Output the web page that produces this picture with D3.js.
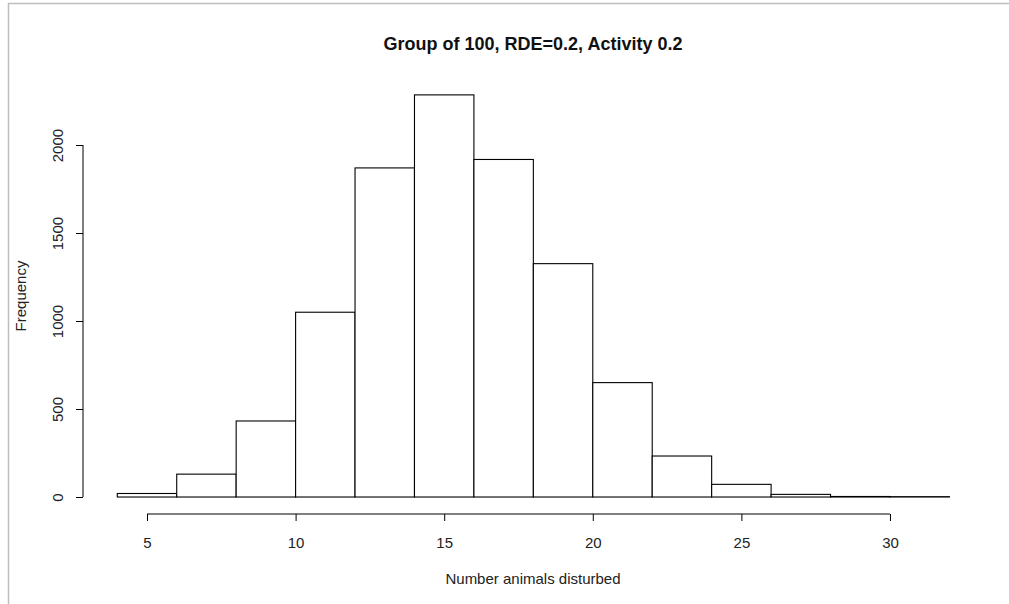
<!DOCTYPE html>
<html>
<head>
<meta charset="utf-8">
<script src="https://cdn.jsdelivr.net/npm/d3@7"></script>
<style>
  body { margin: 0; background: #fff; }
  svg { display: block; font-family: "Liberation Sans", Arial, sans-serif; }
</style>
</head>
<body>
<svg id="chart" width="1009" height="604"></svg>
<script>
// histogram bins (left edges, width 2) and counts
var binStarts = [4, 6, 8, 10, 12, 14, 16, 18, 20, 22, 24, 26, 28, 30];
var binWidth = 2;
var counts = [20, 130, 432, 1050, 1870, 2285, 1918, 1326, 650, 233, 72, 15, 3, 2];
var xTicks = [5, 10, 15, 20, 25, 30];
var yTicks = [0, 500, 1000, 1500, 2000];

var svg = d3.select('#chart');

// page frame (grey edge of the screenshot)
svg.append('line').attr('x1', 8.5).attr('x2', 8.5).attr('y1', 3).attr('y2', 604)
  .attr('stroke', '#bdbdbd').attr('stroke-width', 1.5);
svg.append('line').attr('x1', 8).attr('x2', 1009).attr('y1', 3.5).attr('y2', 3.5)
  .attr('stroke', '#bdbdbd').attr('stroke-width', 1.5);

//R style: 4% padding around the data range
var xMin = 4, xMax = 32, yMax = d3.max(counts);
var xPad = (xMax - xMin) * 0.04, yPad = yMax * 0.04;

var x = d3.scaleLinear()
  .domain([xMin - xPad, xMax + xPad])
  .range([84, 982.7]);

var y = d3.scaleLinear()
  .domain([-yPad, yMax + yPad])
  .range([513.1, 78.8]);

// bars
svg.append('g').selectAll('rect')
  .data(counts)
  .enter().append('rect')
  .attr('x', function (d, i) { return x(binStarts[i]); })
  .attr('y', function (d) { return y(d); })
  .attr('width', function (d, i) { return x(binStarts[i] + binWidth) - x(binStarts[i]); })
  .attr('height', function (d) { return y(0) - y(d); })
  .attr('fill', '#fff')
  .attr('stroke', '#000')
  .attr('stroke-width', 1.1);

// x axis
var xAxis = d3.axisBottom(x).tickValues(xTicks).tickSize(7).tickPadding(16).tickSizeOuter(0);
var gx = svg.append('g').attr('transform', 'translate(0,514)').call(xAxis);
gx.select('.domain').attr('d', 'M' + x(5) + ',0H' + x(30));
gx.selectAll('text').attr('font-size', 15).attr('fill', '#222').attr('font-family', null);
gx.selectAll('line, path').attr('stroke', '#000');

// y axis
var yAxis = d3.axisLeft(y).tickValues(yTicks).tickFormat(d3.format('d')).tickSize(7).tickSizeOuter(0);
var gy = svg.append('g').attr('transform', 'translate(83,0)').call(yAxis);
gy.select('.domain').attr('d', 'M0,' + y(0) + 'V' + y(2000));
gy.selectAll('line, path').attr('stroke', '#000');
gy.selectAll('text')
  .attr('font-size', 15).attr('fill', '#222').attr('font-family', null)
  .attr('x', null).attr('dy', null)
  .attr('text-anchor', 'middle')
  .attr('transform', 'translate(-20,0) rotate(-90)');

// title and axis labels
svg.append('text').attr('x', 533).attr('y', 50)
  .attr('text-anchor', 'middle').attr('font-size', 18).attr('font-weight', 'bold')
  .attr('fill', '#111').text('Group of 100, RDE=0.2, Activity 0.2');

svg.append('text').attr('x', 533).attr('y', 584)
  .attr('text-anchor', 'middle').attr('font-size', 15).attr('fill', '#222')
  .text('Number animals disturbed');

svg.append('text')
  .attr('transform', 'translate(26,296) rotate(-90)')
  .attr('text-anchor', 'middle').attr('font-size', 15).attr('fill', '#222')
  .text('Frequency');
</script>
</body>
</html>
